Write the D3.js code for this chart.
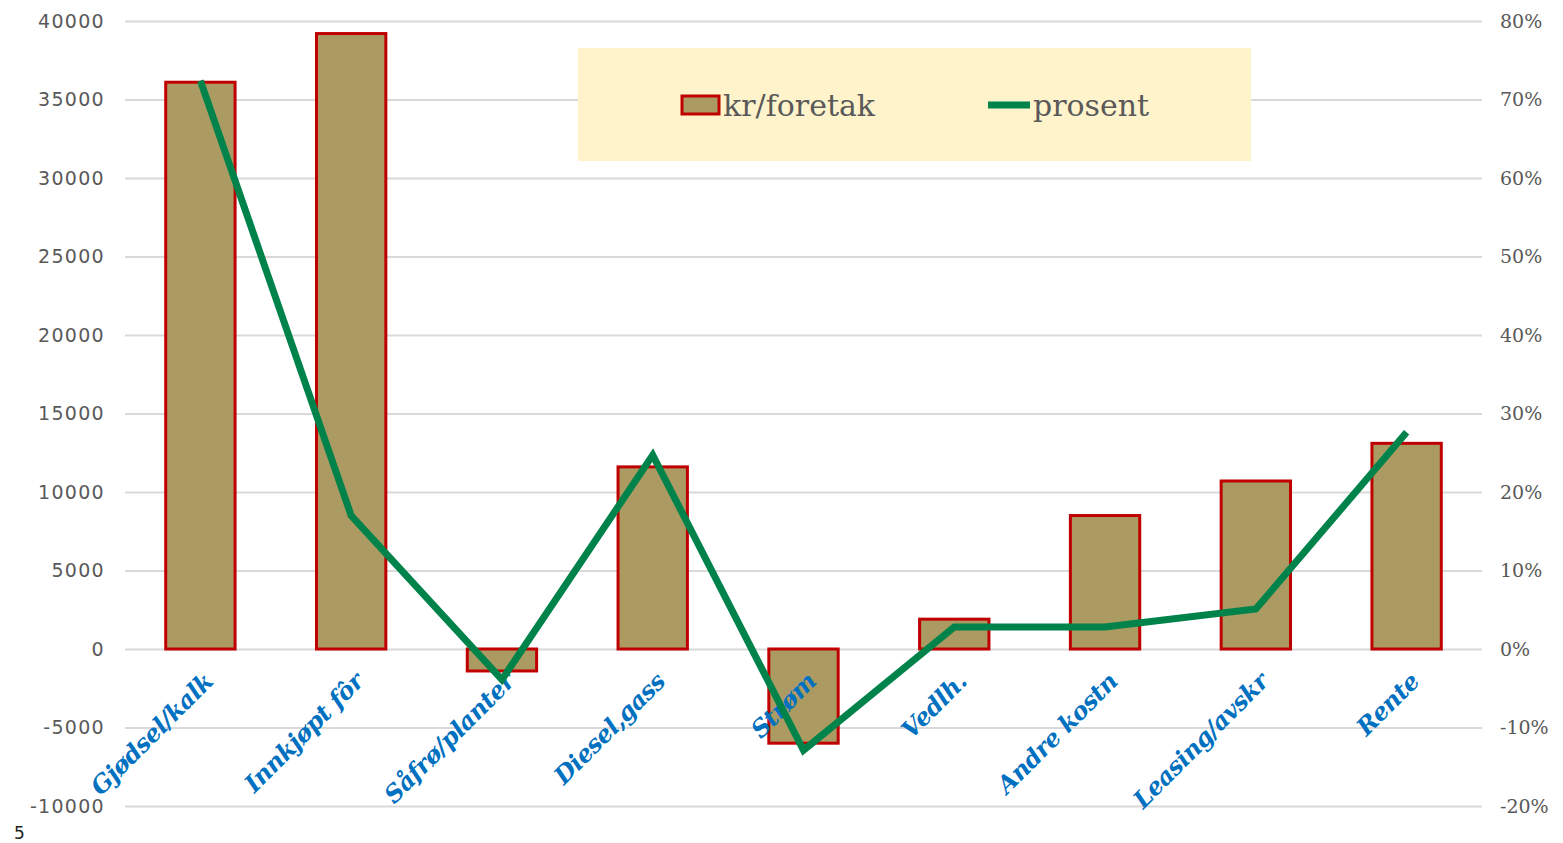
<!DOCTYPE html>
<meta charset="utf-8">
<style>
body { margin: 0; background: #fff; }
.axis text { fill: #595959; }
.axis path, .axis line { display: none; }
.grid line { stroke: #d9d9d9; stroke-width: 2px; }
.grid path { display: none; }
</style>
<body>
<script src="https://d3js.org/d3.v7.min.js"></script>
<script>
var categories = ["Gjødsel/kalk", "Innkjøpt fôr", "Såfrø/planter", "Diesel,gass", "Strøm", "Vedlh.", "Andre kostn", "Leasing/avskr", "Rente"];
var krPerForetak = [36100, 39200, -1400, 11600, -6000, 1900, 8500, 10700, 13100];
var prosent = [0.724, 0.170, -0.039, 0.247, -0.129, 0.028, 0.028, 0.051, 0.276];
var leftTicks = [-10000, -5000, 0, 5000, 10000, 15000, 20000, 25000, 30000, 35000, 40000];
var rightTicks = [-0.2, -0.1, 0, 0.1, 0.2, 0.3, 0.4, 0.5, 0.6, 0.7, 0.8];

var W = 1563, H = 843;
var margin = {top: 21, right: 81, bottom: 37, left: 125},
    width = W - margin.left - margin.right,
    height = H - margin.top - margin.bottom;

var svg = d3.select("body").append("svg")
    .attr("width", W)
    .attr("height", H)
  .append("g")
    .attr("transform", "translate(" + margin.left + "," + margin.top + ")");

var x = d3.scaleBand().domain(categories).range([0, width]).paddingInner(0.54).paddingOuter(0.27);
var xc = function(d) { return x(d) + x.bandwidth() / 2; };
var y = d3.scaleLinear().domain([-10000, 40000]).range([height, 0]);
var y2 = d3.scaleLinear().domain([-0.2, 0.8]).range([height, 0]);

// gridlines
svg.append("g")
    .attr("class", "grid")
    .call(d3.axisLeft(y).tickValues(leftTicks).tickSize(-width).tickFormat(""));

// left axis (plain hyphen for negatives, like the original)
svg.append("g")
    .attr("class", "axis")
    .call(d3.axisLeft(y).tickValues(leftTicks).tickSize(0).tickPadding(20).tickFormat(function(d) { return String(d); }))
    .selectAll("text")
    .style("font-family", "'DejaVu Sans', Verdana, sans-serif")
    .style("font-size", "19px")
    .style("letter-spacing", "1.3px");

// right axis
svg.append("g")
    .attr("class", "axis")
    .attr("transform", "translate(" + width + ",0)")
    .call(d3.axisRight(y2).tickValues(rightTicks).tickSize(0).tickPadding(18).tickFormat(function(d) { return Math.round(d * 100) + "%"; }))
    .selectAll("text")
    .style("font-family", "'DejaVu Serif', Georgia, serif")
    .style("font-size", "19px");

// bars
svg.selectAll(".bar")
    .data(categories)
  .enter().append("rect")
    .attr("class", "bar")
    .attr("x", function(d) { return x(d); })
    .attr("width", x.bandwidth())
    .attr("y", function(d, i) { return y(Math.max(0, krPerForetak[i])); })
    .attr("height", function(d, i) { return Math.abs(y(krPerForetak[i]) - y(0)); })
    .style("fill", "#ab9b62")
    .style("stroke", "#c00000")
    .style("stroke-width", 3);

// category labels
svg.append("g").selectAll("text")
    .data(categories)
  .enter().append("text")
    .attr("transform", function(d) { return "translate(" + (xc(d) + 14) + "," + (y(0) + 34) + ") rotate(-45)"; })
    .attr("text-anchor", "end")
    .style("font-family", "'DejaVu Serif', Georgia, serif")
    .style("font-weight", "bold")
    .style("font-style", "italic")
    .style("font-size", "24px")
    .style("letter-spacing", "-0.5px")
    .style("fill", "#0070c0")
    .text(function(d) { return d; });

// line
var line = d3.line()
    .x(function(d, i) { return xc(categories[i]); })
    .y(function(d) { return y2(d); });

svg.append("path")
    .datum(prosent)
    .attr("d", line)
    .style("fill", "none")
    .style("stroke", "#00834a")
    .style("stroke-width", 7)
    .style("stroke-linejoin", "miter");

// legend
var legend = svg.append("g").attr("transform", "translate(" + (578 - margin.left) + "," + (48 - margin.top) + ")");
legend.append("rect")
    .attr("width", 673).attr("height", 113)
    .style("fill", "#fef3cb");
legend.append("rect")
    .attr("x", 104).attr("y", 48).attr("width", 37).attr("height", 18)
    .style("fill", "#ab9b62").style("stroke", "#c00000").style("stroke-width", 3);
legend.append("text")
    .attr("x", 145).attr("y", 68)
    .style("font-family", "'DejaVu Serif', Georgia, serif")
    .style("font-size", "30px")
    .style("fill", "#595959")
    .text("kr/foretak");
legend.append("line")
    .attr("x1", 410).attr("x2", 452).attr("y1", 57).attr("y2", 57)
    .style("stroke", "#00834a").style("stroke-width", 7);
legend.append("text")
    .attr("x", 455).attr("y", 68)
    .style("font-family", "'DejaVu Serif', Georgia, serif")
    .style("font-size", "30px")
    .style("fill", "#595959")
    .text("prosent");

d3.select("svg").append("text")
    .attr("x", 14).attr("y", 839)
    .style("font-family", "'DejaVu Sans', sans-serif")
    .style("font-size", "17px")
    .style("fill", "#222")
    .text("5");
</script>
